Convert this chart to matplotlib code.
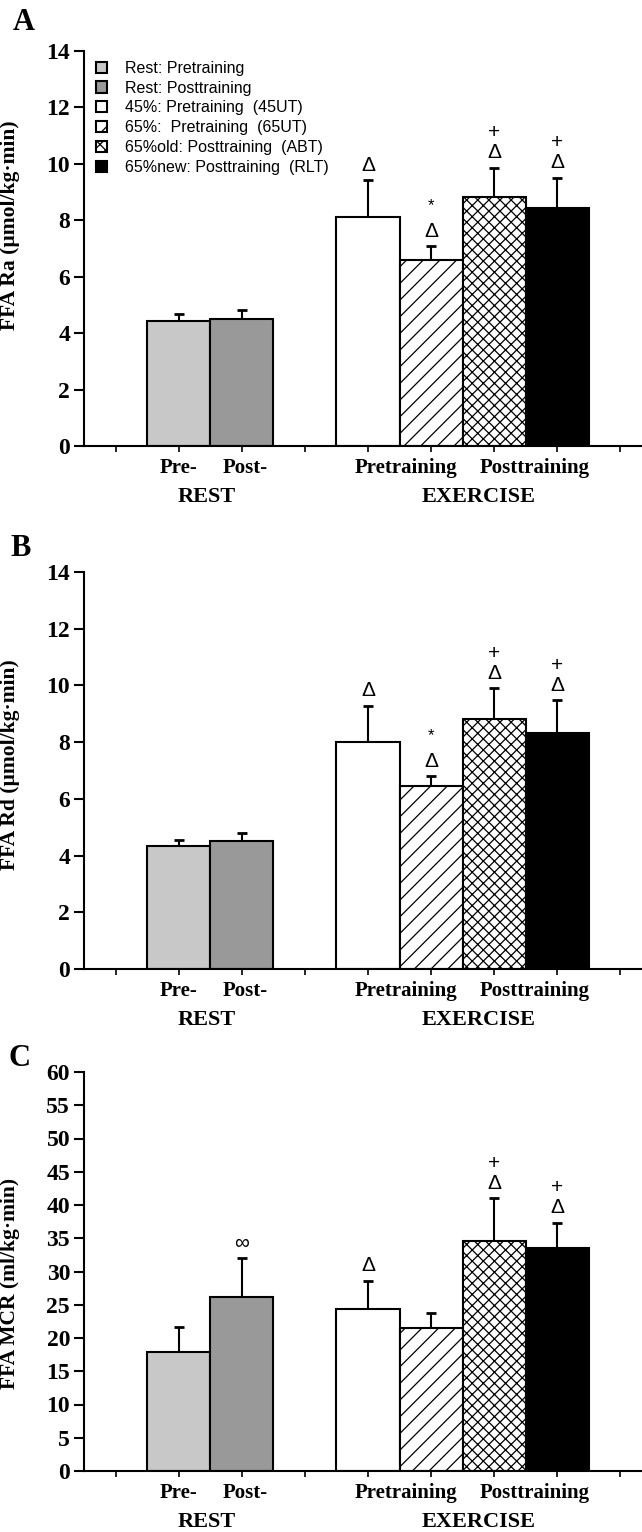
import matplotlib
matplotlib.use("Agg")
import matplotlib.pyplot as plt
import matplotlib.transforms as mtransforms

# bar order: rest pre, rest post, 45UT, 65UT, ABT, RLT
bar_pos = [2, 3, 5, 6, 7, 8]
legend_labels = ["Rest: Pretraining", "Rest: Posttraining",
                 "45%: Pretraining  (45UT)", "65%:  Pretraining  (65UT)",
                 "65%old: Posttraining  (ABT)", "65%new: Posttraining  (RLT)"]

ra_mean = [4.42, 4.50, 8.10, 6.58, 8.82, 8.42]
ra_err = [0.25, 0.32, 1.32, 0.50, 1.05, 1.08]
ra_marks = [[], [], ["Δ"], ["Δ", "*"], ["Δ", "+"], ["Δ", "+"]]

rd_mean = [4.35, 4.50, 8.00, 6.45, 8.82, 8.32]
rd_err = [0.20, 0.28, 1.28, 0.35, 1.08, 1.15]
rd_marks = [[], [], ["Δ"], ["Δ", "*"], ["Δ", "+"], ["Δ", "+"]]

mcr_mean = [17.9, 26.2, 24.4, 21.5, 34.6, 33.5]
mcr_err = [3.7, 5.8, 4.2, 2.3, 6.4, 3.8]
mcr_marks = [[], ["∞"], ["Δ"], [], ["Δ", "+"], ["Δ", "+"]]

colors = ["#c8c8c8", "#999999", "white", "white", "white", "black"]
hatches = [None, None, None, "//", "xxx", None]

plt.rcParams["font.family"] = ["Liberation Serif", "DejaVu Serif"]
plt.rcParams["hatch.linewidth"] = 0.9

W, H = 642, 1532
fig = plt.figure(figsize=(W / 100, H / 100), dpi=100)


def make_panel(top_px, bottom_px, means, errs, marks, ymax, ystep, ylabel,
               letter, letter_xy, ylab_y, show_legend=False):
    left_px = 84
    ax = fig.add_axes([left_px / W, 1 - bottom_px / H, (W - left_px) / W,
                       (bottom_px - top_px) / H])
    bars = ax.bar(bar_pos, means, width=1.0, color=colors, edgecolor="black",
                  linewidth=1.5, zorder=2)
    for b, h in zip(bars, hatches):
        if h:
            b.set_hatch(h)
    ax.errorbar(bar_pos, means, yerr=[[0] * len(errs), errs], fmt="none",
                ecolor="black", elinewidth=1.5, capsize=3.5, capthick=2,
                zorder=1)
    # significance symbols above error bars
    for x, m, e, ms in zip(bar_pos, means, errs, marks):
        off = 15
        for s in ms:
            if s == "+":
                off += 20
            elif s == "*":
                off += 26
            ax.annotate(s, (x, m + e), xytext=(0, off), textcoords="offset pixels",
                        ha="center", va="center", fontsize=15 if s != "*" else 12,
                        family=["Liberation Sans", "DejaVu Sans"])
    ax.set_xlim(0.5, 0.5 + (W - left_px) / 63.1)
    ax.set_ylim(0, ymax)
    ax.set_xticks(range(1, 10))
    ax.set_xticklabels([])
    ax.set_yticks(range(0, ymax + 1, ystep))
    ax.tick_params(axis="y", length=7, width=1.5, labelsize=17, pad=3)
    ax.tick_params(axis="x", length=4, width=1.2)
    for lab in ax.get_yticklabels():
        lab.set_fontweight("bold")
    ax.spines["top"].set_visible(False)
    ax.spines["right"].set_visible(False)
    ax.spines["left"].set_linewidth(1.5)
    ax.spines["bottom"].set_linewidth(1.5)
    ax.set_ylabel(ylabel, fontsize=15.5, fontweight="bold")
    ax.yaxis.set_label_coords((20 - left_px) / (W - left_px), ylab_y)

    trans = mtransforms.blended_transform_factory(ax.transData, ax.transAxes)
    h_ax = bottom_px - top_px
    for x, t in [(2, "Pre-"), (3.05, "Post-"), (5.6, "Pretraining"),
                 (7.65, "Posttraining")]:
        ax.text(x, -22 / h_ax, t, transform=trans, ha="center", va="center",
                fontsize=15, fontweight="bold")
    for x, t in [(2.45, "REST"), (6.75, "EXERCISE")]:
        ax.text(x, -51 / h_ax, t, transform=trans, ha="center", va="center",
                fontsize=16, fontweight="bold")
    fig.text(letter_xy[0] / W, 1 - letter_xy[1] / H, letter, ha="center",
             va="center", fontsize=22, fontweight="bold")

    if show_legend:
        ax.legend(bars, legend_labels, loc="upper left",
                  bbox_to_anchor=(0.022, 0.975), frameon=False,
                  prop={"family": ["Liberation Sans", "DejaVu Sans"], "size": 11.5},
                  handlelength=0.7, handleheight=0.7, handletextpad=1.1,
                  labelspacing=0.3, borderpad=0, borderaxespad=0)
    return ax


make_panel(51, 446, ra_mean, ra_err, ra_marks, 14, 2,
           "FFA Ra (µmol/kg·min)", "A", (24, 23), 0.56, show_legend=True)
make_panel(572, 969, rd_mean, rd_err, rd_marks, 14, 2,
           "FFA Rd (µmol/kg·min)", "B", (21, 548), 0.516)
make_panel(1072, 1471, mcr_mean, mcr_err, mcr_marks, 60, 5,
           "FFA MCR (ml/kg·min)", "C", (19, 1058), 0.47)

fig.savefig("out.png", dpi=100)
